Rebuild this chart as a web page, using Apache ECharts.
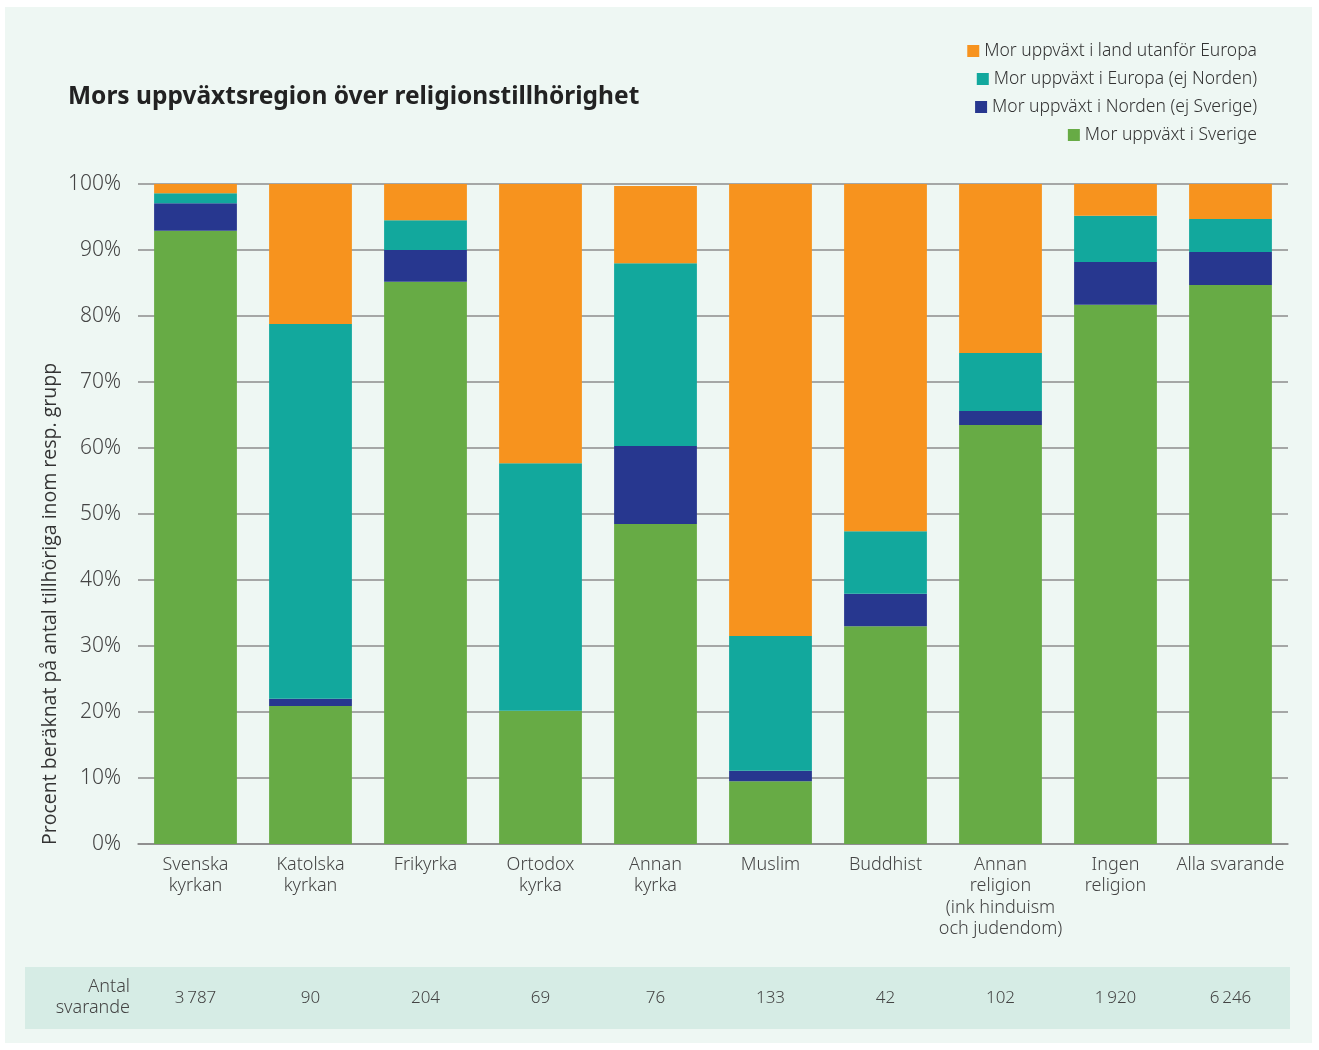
<!DOCTYPE html>
<html>
<head>
<meta charset="utf-8">
<script src="https://cdn.jsdelivr.net/npm/echarts@6/dist/echarts.min.js"></script>
<style>
html,body{margin:0;padding:0;background:#fff;}
#chart{width:1319px;height:1050px;}
</style>
</head>
<body>
<div id="chart"></div>
<script>
var categories = ['Svenska\nkyrkan', 'Katolska\nkyrkan', 'Frikyrka', 'Ortodox\nkyrka', 'Annan\nkyrka', 'Muslim', 'Buddhist', 'Annan\nreligion\n(ink hinduism\noch judendom)', 'Ingen\nreligion', 'Alla svarande'];
var sverige  = [92.9, 20.9, 85.2, 20.2, 48.5, 9.5, 33.0, 63.5, 81.7, 84.7];
var norden   = [4.2, 1.1, 4.8, 0.0, 11.8, 1.6, 4.9, 2.1, 6.5, 5.0];
var europa   = [1.5, 56.8, 4.5, 37.5, 27.7, 20.4, 9.5, 8.8, 7.0, 5.0];
var utanfor  = [1.4, 21.2, 5.5, 42.3, 11.7, 68.5, 52.6, 25.6, 4.8, 5.3];
var counts   = [3787, 90, 204, 69, 76, 133, 42, 102, 1920, 6246];
var yTicks   = ['0%', '10%', '20%', '30%', '40%', '50%', '60%', '70%', '80%', '90%', '100%'];
var seriesNames = ['Mor uppväxt i Sverige', 'Mor uppväxt i Norden (ej Sverige)', 'Mor uppväxt i Europa (ej Norden)', 'Mor uppväxt i land utanför Europa'];
var colors = ['#67ab45', '#27378f', '#12a89d', '#f7931e'];

function fmt(n){ return String(n).replace(/\B(?=(\d{3})+(?!\d))/g, '\u2009'); }

var FONT = '"Noto Sans", "Open Sans", sans-serif';
var chart = echarts.init(document.getElementById('chart'));
var data = [sverige, norden, europa, utanfor];
var series = data.map(function(d, i){
  return { name: seriesNames[i], type: 'bar', stack: 'total', data: d, barCategoryGap: '28%',
    itemStyle: { color: colors[i] }, xAxisIndex: 0, yAxisIndex: 0 };
});
var legendTops = [121, 93, 65, 37];
var legends = seriesNames.map(function(n, i){
  return { data: [n], right: 57, top: legendTops[i], itemWidth: 12, itemHeight: 12, itemGap: 8,
    icon: 'rect', textStyle: { fontSize: 17.5, color: '#333', fontFamily: FONT, fontWeight: 300 }, selectedMode: false };
});
chart.setOption({
  backgroundColor: '#ffffff',
  animation: false,
  textStyle: { fontFamily: FONT },
  graphic: [
    { type: 'rect', left: 5, top: 7, shape: { width: 1307, height: 1036 }, style: { fill: '#eef7f3' }, z: -10 },
    { type: 'rect', left: 25, top: 967, shape: { width: 1265, height: 62 }, style: { fill: '#d6ece5' }, z: -5 },
    { type: 'text', left: 68, top: 85, style: { text: 'Mors uppväxtsregion över religionstillhörighet', fontSize: 24.5, fontWeight: 'bold', fill: '#222', fontFamily: FONT } },
    { type: 'text', x: 130, y: 997, style: { text: 'Antal\nsvarande', fontSize: 18, lineHeight: 21, fill: '#444', align: 'right', verticalAlign: 'middle', fontFamily: FONT, fontWeight: 300 } },
    { type: 'text', x: 50, y: 845, rotation: Math.PI / 2, style: { text: 'Procent beräknat på antal tillhöriga inom resp. grupp', fontSize: 19.5, fill: '#333', align: 'left', verticalAlign: 'middle', fontFamily: '"Open Sans", sans-serif' } }
  ],
  legend: legends,
  grid: { left: 138, width: 1150, top: 184, height: 660 },
  xAxis: [
    { type: 'category', data: categories, position: 'bottom',
      axisLine: { show: true, lineStyle: { color: '#888', width: 1.5 } }, axisTick: { show: false },
      axisLabel: { fontSize: 18, lineHeight: 21.5, color: '#444', margin: 10, interval: 0, fontFamily: FONT, fontWeight: 300 } },
    { type: 'category', data: counts.map(fmt), position: 'bottom', offset: 140,
      axisLine: { show: false }, axisTick: { show: false },
      axisLabel: { fontSize: 17, color: '#444', margin: 6, interval: 0, fontFamily: FONT, fontWeight: 300 } }
  ],
  yAxis: { type: 'value', min: 0, max: 100, interval: 10,
    axisLine: { show: false }, axisTick: { show: false },
    splitLine: { show: true, lineStyle: { color: '#8c8c8c', width: 1.5 } },
    axisLabel: { fontSize: 21, color: '#444', margin: 17, fontFamily: FONT, fontWeight: 300,
      formatter: function(v){ return yTicks[Math.round(v / 10)]; } } },
  series: series
});
</script>
</body>
</html>
